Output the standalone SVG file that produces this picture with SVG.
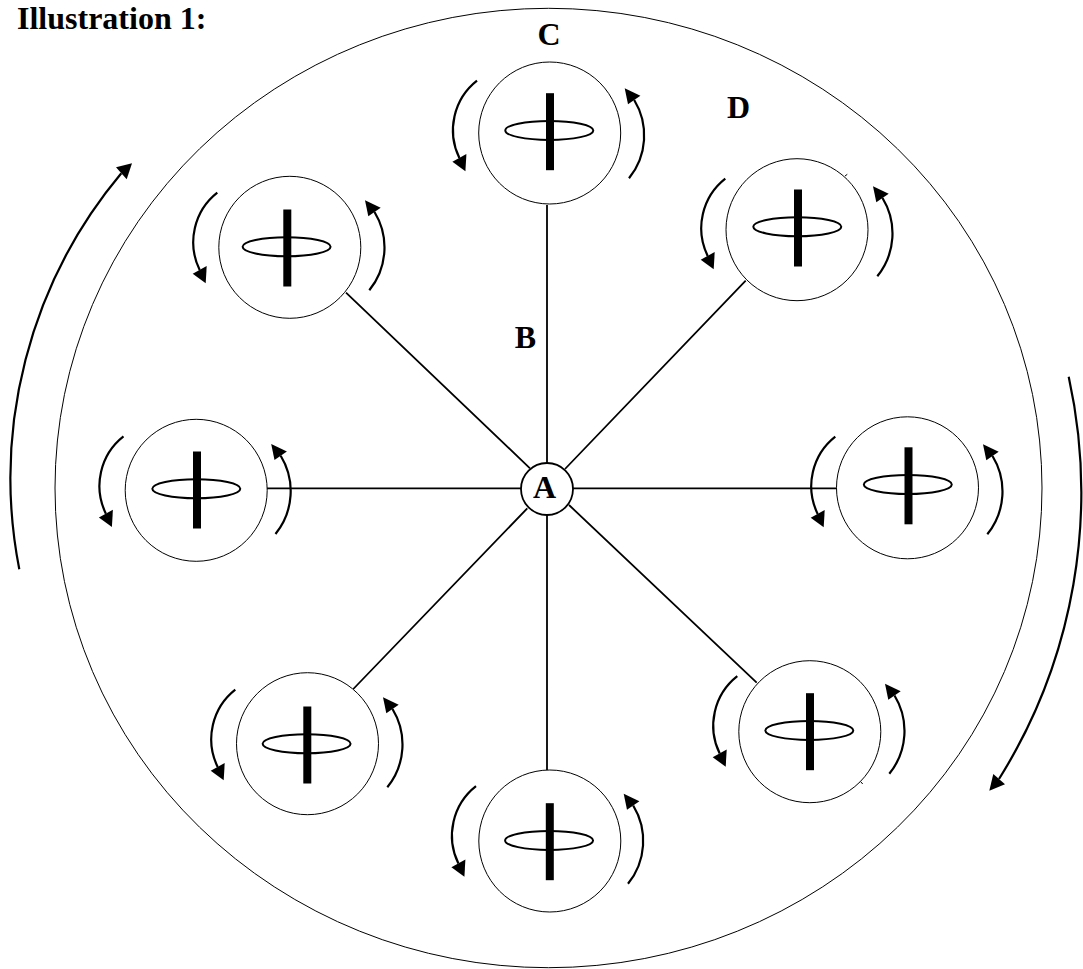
<svg xmlns="http://www.w3.org/2000/svg" xmlns:xlink="http://www.w3.org/1999/xlink" width="1083" height="969" viewBox="0 0 1083 969">
<style>
text{font-family:"Liberation Serif","Times New Roman",serif;font-weight:bold;font-size:32px;fill:#000}
.lbl{text-anchor:middle}
.thin{fill:none;stroke:#000;stroke-width:1}
.spoke{fill:none;stroke:#000;stroke-width:1.8}
.arc{fill:none;stroke:#000;stroke-width:2.2}
.ring{fill:#fff;stroke:#000;stroke-width:1}
.head{fill:#000;stroke:none}
</style>
<defs>
<g id="spindle">
<ellipse cx="-0.7" cy="-1.3" rx="44" ry="9.5" fill="none" stroke="#000" stroke-width="2"/>
<rect x="-4" y="-38.5" width="8" height="77" fill="#000"/>
</g>
<g id="spin-arrows">
<path class="arc" d="M-72.7 -52.3A63 63 0 0 0 -90.3 25"/>
<polygon class="head" points="-97.3,28.7 -83.3,21 -84.3,38.3"/>
<path class="arc" d="M79.3 45.3A68 68 0 0 0 84.5 -33"/>
<polygon class="head" points="75,-44.7 90.7,-37.3 78.3,-28.7"/>
</g>
</defs>
<rect width="1083" height="969" fill="#fff"/>
<text x="17" y="28.5">Illustration 1:</text>
<g id="outer-wheel"><ellipse class="thin" cx="548.5" cy="488" rx="493.5" ry="479.7"/></g>
<g id="connectors">
<path class="spoke" d="M547 205V463M547 515V770M267 488.3H521M573 488.3H836M346 292.7L530 468.3M745.7 280.7L565 469M353.3 689L527.3 508.3M756.7 682.7L569 505"/>
<path class="thin" d="M845 176L847.3 174.3M860.7 781.7L862.7 784"/>
</g>
<g id="rotation-arrows">
<path class="arc" d="M19.3 569.3A475 475 0 0 1 121.3 173.3"/>
<polygon class="head" points="132,163.3 116,167.3 126.7,179.3"/>
<path class="arc" d="M1068.7 376.7A540 540 0 0 1 999 779"/>
<polygon class="head" points="989.3,790.7 993.3,774 1005,784.3"/>
</g>
<g id="hub"><circle cx="547" cy="489" r="26" fill="#fff" stroke="#000" stroke-width="1.8"/><text class="lbl" x="544.5" y="497.5">A</text></g>
<g id="unit-c"><circle class="ring" cx="549.7" cy="133" r="71"/><use href="#spindle" x="550" y="131.7"/><use href="#spin-arrows" x="549.7" y="133"/></g>
<g id="unit-d"><circle class="ring" cx="797" cy="229.7" r="71"/><use href="#spindle" x="798" y="228"/><use href="#spin-arrows" x="798" y="231"/></g>
<g id="unit-e"><circle class="ring" cx="907.5" cy="487.8" r="71"/><use href="#spindle" x="908.5" y="485.8"/><use href="#spin-arrows" x="908" y="489"/></g>
<g id="unit-f"><circle class="ring" cx="809.8" cy="731.7" r="71"/><use href="#spindle" x="810" y="731.7"/><use href="#spin-arrows" x="810" y="728.5"/></g>
<g id="unit-g"><circle class="ring" cx="549.8" cy="841" r="71"/><use href="#spindle" x="549.8" y="841.7"/><use href="#spin-arrows" x="548.7" y="838.5"/></g>
<g id="unit-h"><circle class="ring" cx="307.5" cy="743.7" r="71"/><use href="#spindle" x="307.3" y="745"/><use href="#spin-arrows" x="308" y="742"/></g>
<g id="unit-i"><circle class="ring" cx="196.2" cy="490.3" r="71"/><use href="#spindle" x="197" y="490"/><use href="#spin-arrows" x="196.2" y="488.7"/></g>
<g id="unit-j"><circle class="ring" cx="289.8" cy="247.3" r="71"/><use href="#spindle" x="287.3" y="248"/><use href="#spin-arrows" x="290" y="245"/></g>
<g id="labels">
<text class="lbl" x="549" y="45">C</text>
<text class="lbl" x="738.5" y="118">D</text>
<text class="lbl" x="525.5" y="348">B</text>
</g>
</svg>
